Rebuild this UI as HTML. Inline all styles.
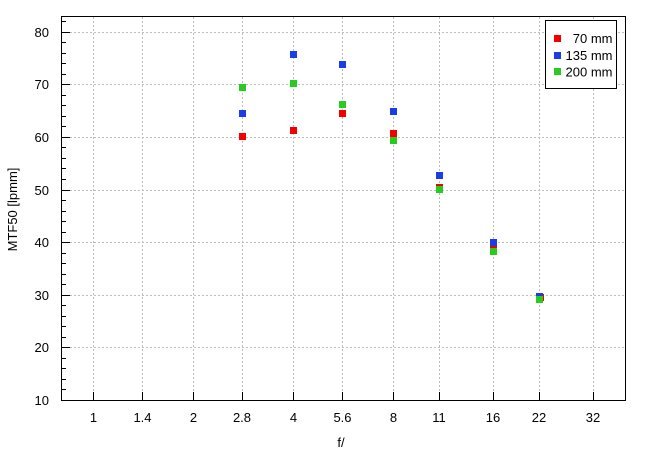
<!DOCTYPE html>
<html><head><meta charset="utf-8"><style>
html,body{margin:0;padding:0;background:#fff;}
svg{display:block;}
text{font-family:"Liberation Sans",Arial,sans-serif;font-size:13px;fill:#000;}
</style></head><body>
<svg width="650" height="455" viewBox="0 0 650 455" xmlns="http://www.w3.org/2000/svg">
<rect x="0" y="0" width="650" height="455" fill="#fff"/>
<g stroke="#bdbdbd" stroke-width="1" stroke-dasharray="2,2" fill="none">
<line x1="93.5" y1="17" x2="93.5" y2="400"/>
<line x1="142.5" y1="17" x2="142.5" y2="400"/>
<line x1="193.5" y1="17" x2="193.5" y2="400"/>
<line x1="242.5" y1="17" x2="242.5" y2="400"/>
<line x1="293.5" y1="17" x2="293.5" y2="400"/>
<line x1="342.5" y1="17" x2="342.5" y2="400"/>
<line x1="393.5" y1="17" x2="393.5" y2="400"/>
<line x1="439.5" y1="17" x2="439.5" y2="400"/>
<line x1="493.5" y1="17" x2="493.5" y2="400"/>
<line x1="539.5" y1="17" x2="539.5" y2="400"/>
<line x1="593.5" y1="17" x2="593.5" y2="400"/>
<line x1="62" y1="32.5" x2="625" y2="32.5"/>
<line x1="62" y1="84.5" x2="625" y2="84.5"/>
<line x1="62" y1="137.5" x2="625" y2="137.5"/>
<line x1="62" y1="190.5" x2="625" y2="190.5"/>
<line x1="62" y1="242.5" x2="625" y2="242.5"/>
<line x1="62" y1="295.5" x2="625" y2="295.5"/>
<line x1="62" y1="347.5" x2="625" y2="347.5"/>
</g>
<g stroke="#000" stroke-width="1" fill="none">
<rect x="61.5" y="16.5" width="564" height="384"/>
<!-- y major ticks -->
<line x1="62" y1="32.5" x2="70" y2="32.5"/>
<line x1="62" y1="84.5" x2="70" y2="84.5"/>
<line x1="62" y1="137.5" x2="70" y2="137.5"/>
<line x1="62" y1="190.5" x2="70" y2="190.5"/>
<line x1="62" y1="242.5" x2="70" y2="242.5"/>
<line x1="62" y1="295.5" x2="70" y2="295.5"/>
<line x1="62" y1="347.5" x2="70" y2="347.5"/>
<!-- y minor ticks -->
<line x1="62" y1="21.5" x2="66" y2="21.5"/>
<line x1="62" y1="42.5" x2="66" y2="42.5"/>
<line x1="62" y1="53.5" x2="66" y2="53.5"/>
<line x1="62" y1="63.5" x2="66" y2="63.5"/>
<line x1="62" y1="74.5" x2="66" y2="74.5"/>
<line x1="62" y1="95.5" x2="66" y2="95.5"/>
<line x1="62" y1="105.5" x2="66" y2="105.5"/>
<line x1="62" y1="116.5" x2="66" y2="116.5"/>
<line x1="62" y1="126.5" x2="66" y2="126.5"/>
<line x1="62" y1="147.5" x2="66" y2="147.5"/>
<line x1="62" y1="158.5" x2="66" y2="158.5"/>
<line x1="62" y1="168.5" x2="66" y2="168.5"/>
<line x1="62" y1="179.5" x2="66" y2="179.5"/>
<line x1="62" y1="200.5" x2="66" y2="200.5"/>
<line x1="62" y1="211.5" x2="66" y2="211.5"/>
<line x1="62" y1="221.5" x2="66" y2="221.5"/>
<line x1="62" y1="232.5" x2="66" y2="232.5"/>
<line x1="62" y1="253.5" x2="66" y2="253.5"/>
<line x1="62" y1="263.5" x2="66" y2="263.5"/>
<line x1="62" y1="274.5" x2="66" y2="274.5"/>
<line x1="62" y1="284.5" x2="66" y2="284.5"/>
<line x1="62" y1="305.5" x2="66" y2="305.5"/>
<line x1="62" y1="316.5" x2="66" y2="316.5"/>
<line x1="62" y1="326.5" x2="66" y2="326.5"/>
<line x1="62" y1="337.5" x2="66" y2="337.5"/>
<line x1="62" y1="358.5" x2="66" y2="358.5"/>
<line x1="62" y1="368.5" x2="66" y2="368.5"/>
<line x1="62" y1="379.5" x2="66" y2="379.5"/>
<line x1="62" y1="389.5" x2="66" y2="389.5"/>
<!-- x ticks -->
<line x1="93.5" y1="400" x2="93.5" y2="392"/>
<line x1="142.5" y1="400" x2="142.5" y2="392"/>
<line x1="193.5" y1="400" x2="193.5" y2="392"/>
<line x1="242.5" y1="400" x2="242.5" y2="392"/>
<line x1="293.5" y1="400" x2="293.5" y2="392"/>
<line x1="342.5" y1="400" x2="342.5" y2="392"/>
<line x1="393.5" y1="400" x2="393.5" y2="392"/>
<line x1="439.5" y1="400" x2="439.5" y2="392"/>
<line x1="493.5" y1="400" x2="493.5" y2="392"/>
<line x1="539.5" y1="400" x2="539.5" y2="392"/>
<line x1="593.5" y1="400" x2="593.5" y2="392"/>
</g>
<!-- y tick labels -->
<g text-anchor="end">
<text x="49" y="37">80</text>
<text x="49" y="89">70</text>
<text x="49" y="142">60</text>
<text x="49" y="195">50</text>
<text x="49" y="247">40</text>
<text x="49" y="300">30</text>
<text x="49" y="352">20</text>
<text x="49" y="405">10</text>
</g>
<!-- x tick labels -->
<g text-anchor="middle">
<text x="93.5" y="422">1</text>
<text x="142.5" y="422">1.4</text>
<text x="193.5" y="422">2</text>
<text x="242" y="422">2.8</text>
<text x="293.5" y="422">4</text>
<text x="342.5" y="422">5.6</text>
<text x="393.5" y="422">8</text>
<text x="439" y="422">11</text>
<text x="493" y="422">16</text>
<text x="539" y="422">22</text>
<text x="593" y="422">32</text>
<text x="341" y="447">f/</text>
<text transform="translate(17,209.5) rotate(-90)">MTF50 [lpmm]</text>
</g>
<!-- series: red 70mm -->
<g fill="#f20000">
<rect x="239" y="133" width="7" height="7"/>
<rect x="290" y="127" width="7" height="7"/>
<rect x="339" y="110" width="7" height="7"/>
<rect x="390" y="130" width="7" height="7"/>
<rect x="436" y="184" width="7" height="7"/>
<rect x="490" y="242" width="7" height="7"/>
<rect x="537" y="294" width="7" height="7"/>
</g>
<!-- blue 135mm -->
<g fill="#1a3de6">
<rect x="239" y="110" width="7" height="7"/>
<rect x="290" y="51" width="7" height="7"/>
<rect x="339" y="61" width="7" height="7"/>
<rect x="390" y="108" width="7" height="7"/>
<rect x="436" y="172" width="7" height="7"/>
<rect x="490" y="239" width="7" height="7"/>
<rect x="536" y="293" width="7" height="7"/>
</g>
<!-- green 200mm -->
<g fill="#26cc1e">
<rect x="239" y="84" width="7" height="7"/>
<rect x="290" y="80" width="7" height="7"/>
<rect x="339" y="101" width="7" height="7"/>
<rect x="390" y="137" width="7" height="7"/>
<rect x="436" y="186" width="7" height="7"/>
<rect x="490" y="248" width="7" height="7"/>
<rect x="536" y="296" width="7" height="7"/>
</g>
<!-- legend -->
<rect x="545.5" y="20.5" width="71" height="68" fill="#fff" stroke="#000" stroke-width="1"/>
<rect x="554" y="35" width="7" height="7" fill="#f20000"/>
<rect x="554" y="52" width="7" height="7" fill="#1a3de6"/>
<rect x="554" y="68" width="7" height="7" fill="#26cc1e"/>
<g text-anchor="end">
<text x="612.5" y="43">70 mm</text>
<text x="612.5" y="60">135 mm</text>
<text x="612.5" y="76.5">200 mm</text>
</g>
</svg>
</body></html>
